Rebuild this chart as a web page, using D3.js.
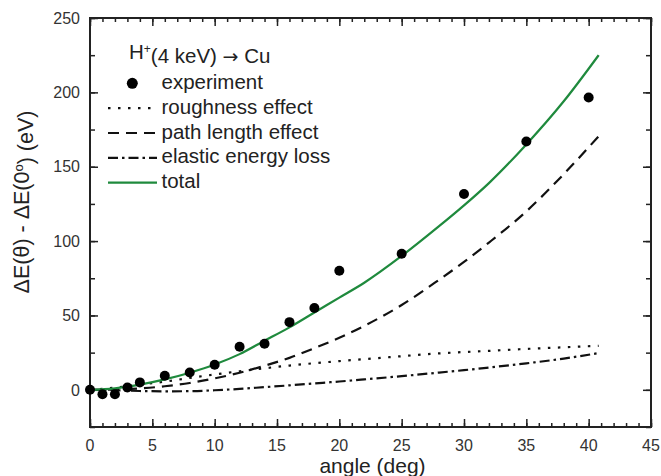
<!DOCTYPE html>
<html lang="en">
  <head>
    <meta charset="utf-8">
    <title>Energy loss vs angle</title>
    <script src="https://d3js.org/d3.v7.min.js"></script>
    <style>
      body { margin: 0; background: #fff; }
      text { font-family: "Liberation Sans", Arial, sans-serif; fill: #222; }
    </style>
  </head>
  <body>
    <div id="chart"></div>
<script>

// experiment points
var expAngle = [0, 1, 2, 3, 4, 6, 8, 10, 12, 14, 16, 18, 20, 25, 30, 35, 40];
var expValue = [0, -3, -3, 1.5, 5, 9.4, 11.7, 16.8, 29, 31, 45.5, 55, 80, 91.5, 131.7, 167, 196.5];

var curveAngle = [0, 2, 4, 6, 8, 10, 12, 14, 16, 18, 20, 22, 25, 28, 30, 32, 35, 38, 40.8];
var roughness  = [0, 1.5, 3.5, 5.5, 8, 10.3, 12.5, 14.5, 16.3, 17.9, 19.3, 20.6, 22.6, 24.5, 25.4, 26.2, 27.5, 28.6, 29.6];
var pathLength = [0, 0.2, 0.9, 2.4, 4.6, 7.7, 11.5, 16.2, 21.5, 28, 35, 43, 57, 74, 86, 99, 120, 145, 170.5];
var elastic    = [0, -0.3, -0.8, -1, -0.9, -0.3, 0.6, 1.8, 3, 4.3, 5.6, 7, 9.2, 11.6, 13.2, 15, 17.8, 21, 24.7];
var total      = [0, 1, 3.5, 7, 11.5, 17, 24, 33, 42, 52, 62, 72, 90, 110, 124, 139, 165, 194, 225];

var xTicks = [0, 5, 10, 15, 20, 25, 30, 35, 40, 45];
var yTicks = [0, 50, 100, 150, 200, 250];

var legendLabels = ["experiment", "roughness effect", "path length effect", "elastic energy loss", "total"];

var W = 661, H = 476;
var margin = {left: 90, right: 10, top: 18, bottom: 49};
var green = "#1f8a3d";

var svg = d3.select("#chart").append("svg")
  .attr("width", W)
  .attr("height", H);

var x = d3.scaleLinear().domain([0, 45]).range([margin.left, W - margin.right]);
var y = d3.scaleLinear().domain([-25, 250]).range([H - margin.bottom, margin.top]);

var x0 = x.range()[0], x1 = x.range()[1], y0 = y.range()[0], y1 = y.range()[1];

// ticks, inward on all four sides
function tickAxis(axis, scale, values, len, translate) {
  svg.append("g")
    .attr("transform", translate)
    .call(axis(scale).tickValues(values).tickSize(len).tickFormat(""))
    .call(function(g) { g.select(".domain").remove(); })
    .selectAll("line").attr("stroke", "#222").attr("stroke-width", 1.5);
}
var xMinor = d3.range(0, 46, 1);
var yMinor = d3.range(-25, 251, 25);
tickAxis(d3.axisTop, x, xMinor, 4, "translate(0," + y0 + ")");
tickAxis(d3.axisTop, x, xTicks, 8, "translate(0," + y0 + ")");
tickAxis(d3.axisBottom, x, xMinor, 4, "translate(0," + y1 + ")");
tickAxis(d3.axisBottom, x, xTicks, 8, "translate(0," + y1 + ")");
tickAxis(d3.axisRight, y, yMinor, 5, "translate(" + x0 + ",0)");
tickAxis(d3.axisRight, y, yTicks, 8, "translate(" + x0 + ",0)");
tickAxis(d3.axisLeft, y, yMinor, 5, "translate(" + x1 + ",0)");
tickAxis(d3.axisLeft, y, yTicks, 8, "translate(" + x1 + ",0)");

// tick labels
svg.append("g").selectAll("text")
  .data(xTicks).enter().append("text")
    .attr("x", function(d) { return x(d); })
    .attr("y", 451)
    .attr("text-anchor", "middle")
    .style("font-size", "16px")
    .style("fill", "#333")
    .text(function(d) { return d; });

svg.append("g").selectAll("text")
  .data(yTicks).enter().append("text")
    .attr("x", 80)
    .attr("y", function(d) { return y(d); })
    .attr("dy", "0.36em")
    .attr("text-anchor", "end")
    .style("font-size", "16px")
    .style("fill", "#333")
    .text(function(d) { return d; });

// frame
svg.append("rect")
  .attr("x", x0).attr("y", y1)
  .attr("width", x1 - x0).attr("height", y0 - y1)
  .attr("fill", "none")
  .attr("stroke", "#222")
  .attr("stroke-width", 2);

// axis titles
svg.append("text")
  .attr("x", (x0 + x1) / 2 + 2)
  .attr("y", 473)
  .attr("text-anchor", "middle")
  .style("font-size", "21px")
  .text("angle (deg)");

var yt = svg.append("text")
  .attr("transform", "translate(29,202) rotate(-90)")
  .attr("text-anchor", "middle")
  .style("font-size", "21.5px");
yt.append("tspan").text("\u0394E(\u03b8) - \u0394E(0");
yt.append("tspan").attr("dy", "-0.45em").style("font-size", "13px").text("o");
yt.append("tspan").attr("dy", "0.45em").text(") (eV)");

// curves
var line = d3.line()
  .x(function(d) { return x(d[0]); })
  .y(function(d) { return y(d[1]); })
  .curve(d3.curveMonotoneX);

var series = [
  {values: roughness,  color: "#111", dash: "2.5,7.5"},
  {values: pathLength, color: "#111", dash: "11,7"},
  {values: elastic,    color: "#111", dash: "10,4,2.5,4"},
  {values: total,      color: green,  dash: null}
];

svg.append("g").selectAll("path")
  .data(series).enter().append("path")
    .attr("d", function(s) { return line(d3.zip(curveAngle, s.values)); })
    .attr("fill", "none")
    .attr("stroke", function(s) { return s.color; })
    .attr("stroke-width", 2.2)
    .attr("stroke-dasharray", function(s) { return s.dash; });

// experiment
svg.append("g").selectAll("circle")
  .data(d3.zip(expAngle, expValue)).enter().append("circle")
    .attr("cx", function(d) { return x(d[0]); })
    .attr("cy", function(d) { return y(d[1]); })
    .attr("r", 5)
    .attr("fill", "#000");

// legend
var lg = svg.append("g").style("font-size", "20.5px");
var title = lg.append("text").attr("x", 129).attr("y", 59);
title.append("tspan").text("H");
title.append("tspan").attr("dy", "-0.5em").style("font-size", "12px").text("+");
title.append("tspan").attr("dy", "0.5em").text("(4 keV) ");
title.append("tspan").style("font-family", "DejaVu Sans").style("font-size", "19px").text("\u2192");
title.append("tspan").text(" Cu");

var rowY = d3.scaleLinear().domain([0, 4]).range([83.3, 182.7]);

lg.append("circle").attr("cx", 132.3).attr("cy", rowY(0)).attr("r", 5.5).attr("fill", "#000");
series.forEach(function(s, i) {
  lg.append("line")
    .attr("x1", 108).attr("x2", 157)
    .attr("y1", rowY(i + 1)).attr("y2", rowY(i + 1))
    .attr("stroke", s.color)
    .attr("stroke-width", 2.2)
    .attr("stroke-dasharray", s.dash);
});
lg.selectAll("text.lab")
  .data(legendLabels).enter().append("text")
    .attr("class", "lab")
    .attr("x", 161.5)
    .attr("y", function(d, i) { return rowY(i) + 5.5; })
    .text(function(d) { return d; });

</script>
  </body>
</html>
